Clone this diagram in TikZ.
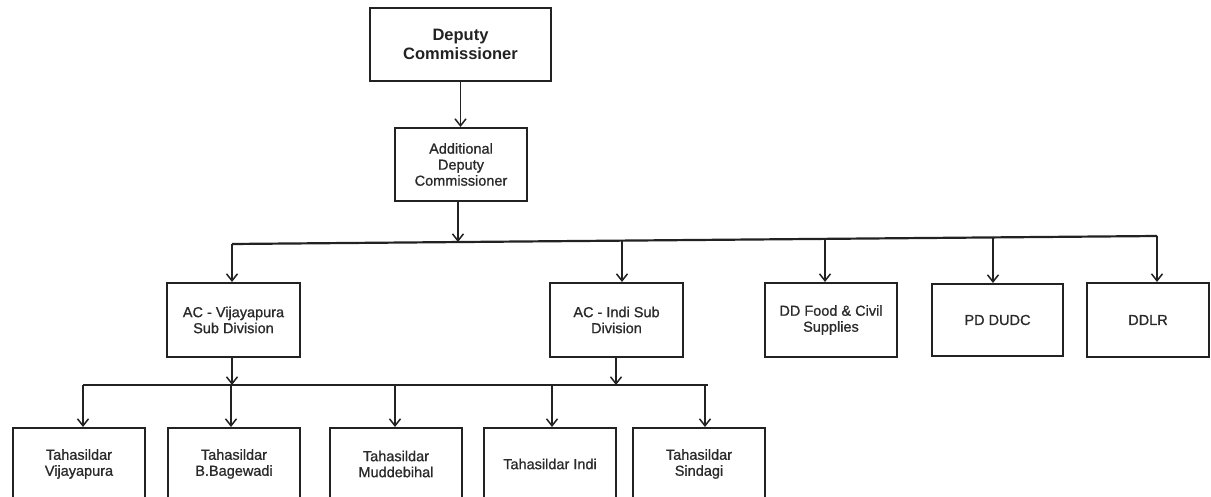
\documentclass[tikz,border=0pt]{standalone}
\usepackage{fontspec}
\setmainfont{Liberation Sans}
\newfontfamily\labelfont[FakeBold=0.9]{Liberation Sans}
\usetikzlibrary{arrows.meta,calc}
\definecolor{ink}{HTML}{222222}
\definecolor{txt}{HTML}{2a2a2a}
\begin{document}
\begin{tikzpicture}[x=1pt,y=1pt,
  box/.style={draw=ink,line width=2pt,align=center,inner sep=1pt,text=txt,
    font=\labelfont\fontsize{14.5}{16}\selectfont},
  topbox/.style={box,line width=2.4pt,text=ink,
    font=\normalfont\fontsize{16.5}{18.5}\selectfont\bfseries},
  arr/.style={draw=ink,line width=1.3pt,
    -{Straight Barb[length=7pt,width=11pt,line width=1.5pt]}},
  bus/.style={draw=ink,line width=2.2pt}]
  \clip (0,0) rectangle (1211,-497);
  \fill[white] (0,0) rectangle (1211,-497);

  % top of the hierarchy
  \node[topbox,minimum width=181pt,minimum height=73pt] (DC) at (460.5,-44.5) {Deputy\\Commissioner};
  \node[box,minimum width=132pt,minimum height=73pt] (ADC) at (461,-164.5) {Additional\\Deputy\\Commissioner};

  % second level
  \node[box,minimum width=133pt,minimum height=74pt] (ACV) at (233.5,-320) {AC - Vijayapura\\Sub Division};
  \node[box,minimum width=133pt,minimum height=74pt] (ACI) at (616.5,-320) {AC - Indi Sub\\Division};
  \node[box,minimum width=132pt,minimum height=74pt] (DDF) at (831,-320) {DD Food \& Civil\\Supplies};
  \node[box,minimum width=131pt,minimum height=72pt] (PDD) at (997.5,-320) {PD DUDC};
  \node[box,minimum width=122pt,minimum height=74pt] (DDLR) at (1148,-320) {DDLR};

  % taluk level
  \node[box,minimum width=132pt,minimum height=72pt] (TV) at (79,-464) {Tahasildar\\Vijayapura};
  \node[box,minimum width=132pt,minimum height=72pt] (TB) at (234,-464) {Tahasildar\\B.Bagewadi};
  \node[box,minimum width=132pt,minimum height=72pt] (TM) at (396,-464) {Tahasildar\\Muddebihal};
  \node[box,minimum width=132pt,minimum height=72pt] (TI) at (550,-464) {Tahasildar Indi};
  \node[box,minimum width=132pt,minimum height=72pt] (TS) at (699,-464) {Tahasildar\\Sindagi};

  % main distribution line
  \coordinate (busL) at (232,-244);
  \coordinate (busR) at (1157,-236);
  \draw[bus] (busL) -- (busR);
  \coordinate (k0) at ($(busL)!0.2443!(busR)$);
  \coordinate (k1) at (busL);
  \coordinate (k2) at ($(busL)!0.4216!(busR)$);
  \coordinate (k3) at ($(busL)!0.6411!(busR)$);
  \coordinate (k4) at ($(busL)!0.8227!(busR)$);
  \coordinate (k5) at (busR);

  \draw[arr] (DC.south) -- (DC.south |- ADC.north);
  \draw[arr] (ADC.south -| k0) -- (k0);
  \draw[arr] (k1) -- (k1 |- ACV.north);
  \draw[arr] (k2) -- (k2 |- ACI.north);
  \draw[arr] (k3) -- (k3 |- DDF.north);
  \draw[arr] (k4) -- (k4 |- PDD.north);
  \draw[arr] (k5) -- (k5 |- DDLR.north);

  % sub-division distribution line
  \coordinate (sL) at (83,-385);
  \coordinate (sR) at (708,-385);
  \draw[bus] (sL) -- (sR);
  \coordinate (s1) at (sL);
  \coordinate (s2) at (231,-385);
  \coordinate (s3) at (395,-385);
  \coordinate (s4) at (552,-385);
  \coordinate (s5) at (705,-385);
  \coordinate (sa) at (232,-385);
  \coordinate (sb) at (616,-385);

  \draw[arr] (ACV.south -| sa) -- (sa);
  \draw[arr] (ACI.south -| sb) -- (sb);
  \draw[arr] (s1) -- (s1 |- TV.north);
  \draw[arr] (s2) -- (s2 |- TB.north);
  \draw[arr] (s3) -- (s3 |- TM.north);
  \draw[arr] (s4) -- (s4 |- TI.north);
  \draw[arr] (s5) -- (s5 |- TS.north);
\end{tikzpicture}
\end{document}
